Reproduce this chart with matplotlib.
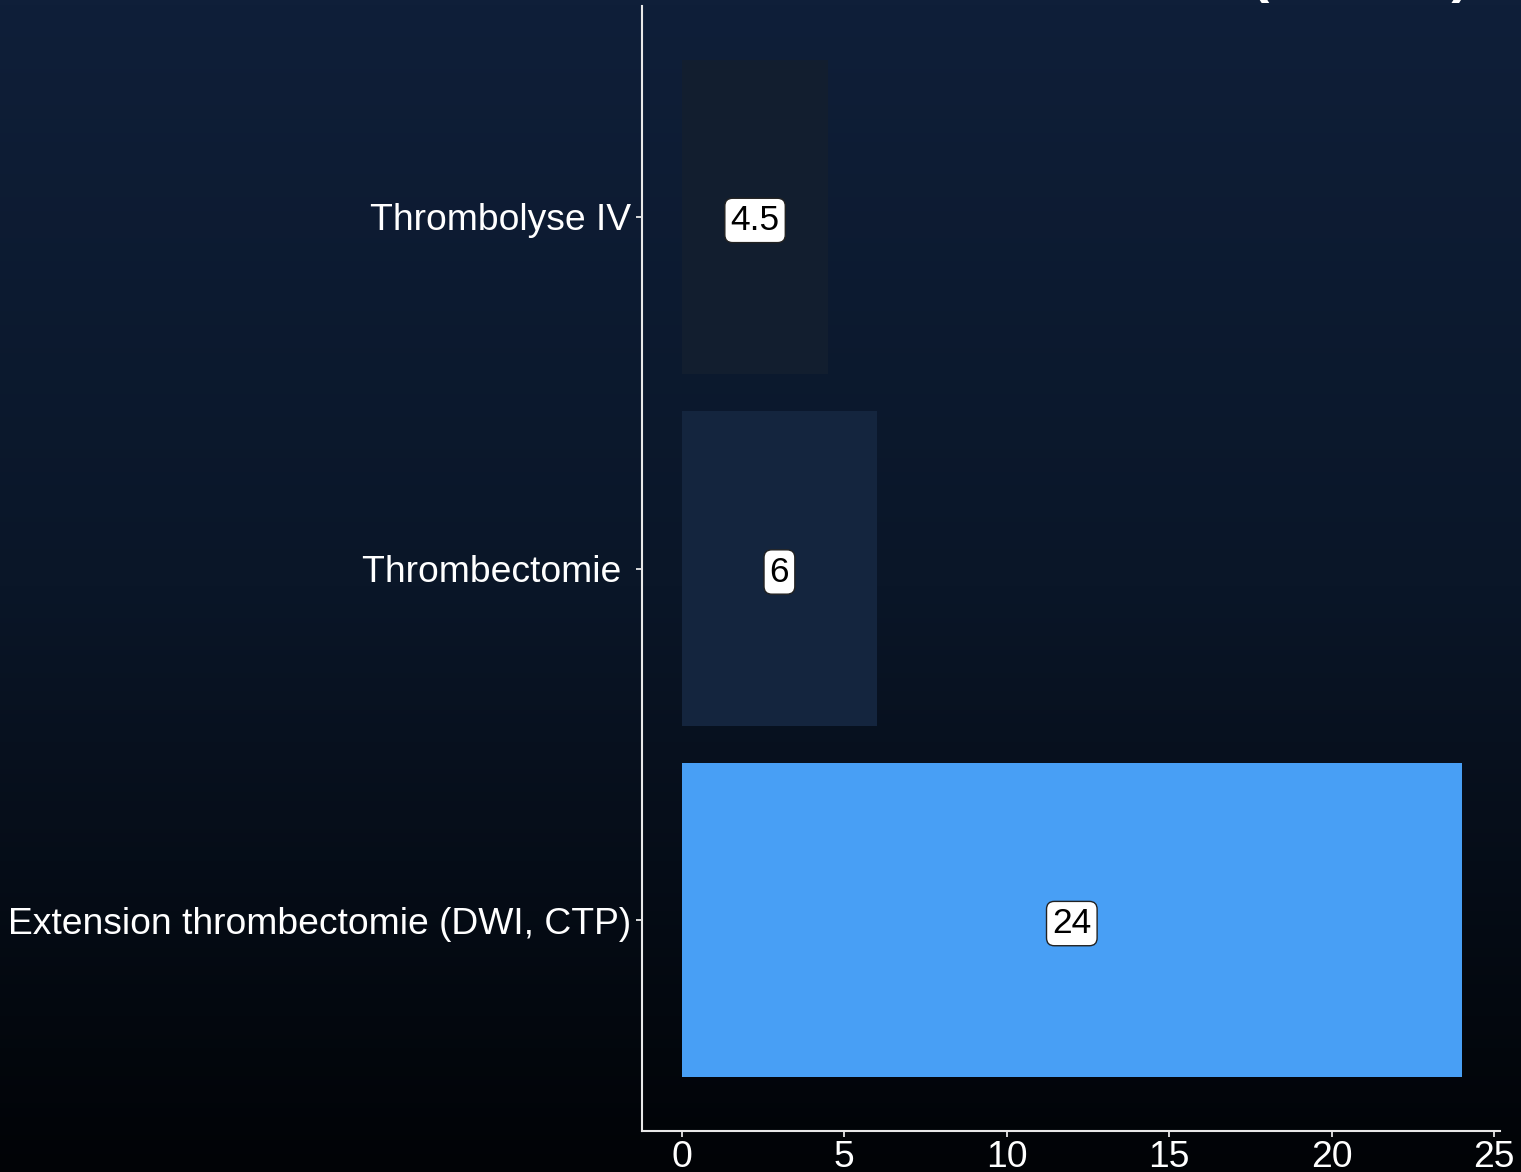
import numpy as np
import matplotlib
matplotlib.use("Agg")
import matplotlib.pyplot as plt
from matplotlib.colors import LinearSegmentedColormap

# Treatment windows (hours)
categories = ["Thrombolyse IV", "Thrombectomie ", "Extension thrombectomie (DWI, CTP)"]
hours = [4.5, 6, 24]
value_labels = ["4.5", "6", "24"]
bar_colors = ["#121e2f", "#14253e", "#489ff5"]
x_ticks = [0, 5, 10, 15, 20, 25]
title_text = "Fenêtre de traitement (heures)"

plt.rcParams["font.family"] = ["Liberation Sans", "DejaVu Sans"]

W, H, DPI = 1521, 1172, 100
fig = plt.figure(figsize=(W / DPI, H / DPI), dpi=DPI)

# Vertical gradient backdrop
bg = fig.add_axes([0, 0, 1, 1], zorder=0)
bg.set_axis_off()
grad = np.linspace(0, 1, 256).reshape(-1, 1)
cmap = LinearSegmentedColormap.from_list("bg", ["#0f1f39", "#0a1628", "#010306"])
bg.imshow(grad, aspect="auto", cmap=cmap, extent=[0, 1, 0, 1], origin="upper")
bg.set_xlim(0, 1)
bg.set_ylim(0, 1)

left, right = 642 / W, 1500 / W
bottom, top = (H - 1131) / H, (H - 6) / H
ax = fig.add_axes([left, bottom, right - left, top - bottom], zorder=1)
ax.patch.set_alpha(0)

ypos = np.arange(len(categories))
ax.barh(ypos, hours, height=0.895, color=bar_colors, zorder=2)

for y, v, lab in zip(ypos, hours, value_labels):
    ax.text(v / 2, y, lab, ha="center", va="center_baseline", fontsize=25.5,
            color="black", zorder=3,
            bbox=dict(boxstyle="round,pad=0.16,rounding_size=0.22",
                      facecolor="white", edgecolor="#222222", linewidth=1.0))

ax.set_ylim(len(categories) - 1 + 0.6, -0.6)
ax.set_xlim(-1.23, 25.18)
ax.set_yticks(ypos)
ax.set_yticklabels(categories)
ax.set_xticks(x_ticks)

for side in ("top", "right"):
    ax.spines[side].set_visible(False)
for side in ("left", "bottom"):
    ax.spines[side].set_color("#e8e8e8")
    ax.spines[side].set_linewidth(1.5)

ax.tick_params(axis="both", colors="#e8e8e8", labelcolor="white",
               length=4.5, width=1.3, labelsize=26.8)
ax.tick_params(axis="y", pad=3)
ax.tick_params(axis="x", pad=2)

# Title sits above the plotting area
fig.text(1470 / W, 1 + 9 / H, title_text, ha="right", va="baseline",
         fontsize=40, fontweight="bold", color="white")

fig.savefig("out.png", dpi=DPI)
